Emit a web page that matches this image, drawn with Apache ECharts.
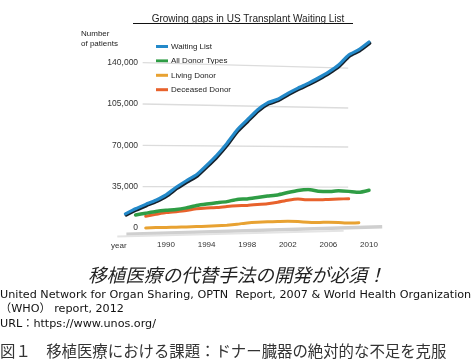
<!DOCTYPE html>
<html>
<head>
<meta charset="utf-8">
<script src="https://cdn.jsdelivr.net/npm/echarts@6/dist/echarts.min.js"></script>
<style>
html,body{margin:0;padding:0;background:#fff;}
#c{width:473px;height:363px;}
</style>
</head>
<body>
<div id="c"></div>
<script>
// ---- data ----
const chartTitle = 'Growing gaps in US Transplant Waiting List';
const yAxisName = 'Number\nof patients';
const xAxisName = 'year';
const seriesNames = ['Waiting List', 'All Donor Types', 'Living Donor', 'Deceased Donor'];
const xTickYears = [1990, 1994, 1998, 2002, 2006, 2010];
const yTickValues = [0, 35000, 70000, 105000, 140000];

const waitingYears = [1986,1987,1988,1989,1990,1991,1992,1993,1994,1995,1996,1997,1998,1999,2000,2001,2002,2003,2004,2005,2006,2007,2008,2009,2010];
const waitingList  = [12000,16300,20000,23500,28000,34500,40000,45000,53000,61600,71600,83000,91500,100000,106000,109000,114000,118500,122500,127000,132000,138000,146500,151000,157500];

const allDonorYears = [1987,1988,1989,1990,1991,1992,1993,1994,1995,1996,1997,1998,1999,2000,2001,2002,2003,2004,2005,2006,2007,2008,2009,2010];
const allDonor      = [11000,12500,14000,15000,15600,17000,19000,20300,21300,22300,24200,24600,25800,27000,28000,30000,31800,32600,31200,30800,31500,31000,30200,32000];

const livingYears = [1988,1989,1990,1991,1992,1993,1994,1995,1996,1997,1998,1999,2000,2001,2002,2003,2004,2005,2006,2007,2008,2009];
const livingDonor = [0,300,500,700,900,1200,1500,1900,2400,3200,4300,4900,5200,5400,5600,5400,4900,4600,4900,4700,4200,4500];

const deceasedYears = [1988,1989,1990,1991,1992,1993,1994,1995,1996,1997,1998,1999,2000,2001,2002,2003,2004,2005,2006,2007,2008];
const deceasedDonor = [10000,11500,13000,13800,14800,16300,17000,17300,18200,18800,19100,19800,20600,21800,23500,24500,23800,23800,24200,24500,24800];

const headline = '移植医療の代替手法の開発が必須！';
const sourceLines = [
  'United Network for Organ Sharing, OPTN  Report, 2007 & World Health Organization',
  '（WHO） report, 2012',
  'URL：https://www.unos.org/'
];
const caption = '図１　移植医療における課題：ドナー臓器の絶対的な不足を克服';

// ---- build ----
const colors = {
  'Waiting List': '#2389c9',
  'All Donor Types': '#2f9d45',
  'Living Donor': '#e8a232',
  'Deceased Donor': '#e8622c'
};
const zip = (xs, ys) => xs.map((x, i) => [x, ys[i]]);
const FONT = '"Liberation Sans", Arial, "Noto Sans CJK JP", sans-serif';
const SFONT = '"DejaVu Sans", "Noto Sans CJK JP", sans-serif';
const JFONT = '"Noto Sans CJK JP", "Liberation Sans", sans-serif';

// gridline segments (slightly perspective-tilted), in data space
const gridStartYear = 1987.7, gridEndYear = 2007.95;
const gridDrops = {35000: 400, 70000: 1400, 105000: 3400, 140000: 4600};
const gridLines = yTickValues.filter(v => v > 0).map(v => [
  {coord: [gridStartYear, v]},
  {coord: [gridEndYear, v - gridDrops[v]]}
]);

const chart = echarts.init(document.getElementById('c'), null, {renderer: 'canvas'});

function lineSeries(name, data, width, z, extra) {
  return Object.assign({
    name: name,
    type: 'line',
    data: data,
    showSymbol: false,
    symbol: 'none',
    smooth: 0.15,
    clip: false,
    z: z,
    lineStyle: {color: colors[name], width: width, cap: 'round', join: 'round'},
    itemStyle: {color: colors[name]}
  }, extra || {});
}

const option = {
  animation: false,
  backgroundColor: '#fff',
  textStyle: {fontFamily: FONT},
  title: {
    text: chartTitle,
    left: 243,
    textAlign: 'center',
    top: 9,
    textStyle: {fontFamily: FONT, fontSize: 10, fontWeight: 'normal', color: '#222'}
  },
  legend: {
    orient: 'vertical',
    left: 151,
    top: 36.5,
    itemWidth: 12,
    itemHeight: 3,
    itemGap: 4.4,
    icon: 'rect',
    data: seriesNames,
    textStyle: {fontFamily: FONT, fontSize: 8, color: '#222', lineHeight: 10, padding: [0, 0, 0, -2]},
    selectedMode: false
  },
  grid: {
    left: 105.1,
    width: 284.2,
    top: 21.35,
    height: 247.95,
    containLabel: false,
    outerBoundsMode: 'none'
  },
  xAxis: {
    type: 'value',
    min: 1984,
    max: 2012,
    offset: -41.3,
    splitLine: {show: false},
    axisLine: {show: false, onZero: false},
    axisTick: {show: false},
    axisLabel: {
      customValues: xTickYears,
      margin: 13,
      fontFamily: FONT,
      fontSize: 8,
      color: '#333',
      formatter: v => String(v)
    }
  },
  yAxis: {
    type: 'value',
    min: -35000,
    max: 175000,
    interval: 35000,
    splitLine: {show: false},
    axisLine: {show: false},
    axisTick: {show: false},
    axisLabel: {
      margin: -33,
      align: 'right',
      fontFamily: FONT,
      fontSize: 8.5,
      color: '#333',
      formatter: v => (yTickValues.indexOf(v) >= 0 ? v.toLocaleString('en-US') : '')
    }
  },
  graphic: [
    {type: 'line', shape: {x1: 133, y1: 23.5, x2: 353, y2: 23.5}, style: {stroke: '#111', lineWidth: 1}},
    {type: 'text', left: 81, top: 29, style: {text: yAxisName, font: '8px ' + FONT, fill: '#222', lineHeight: 10}},
    {type: 'text', left: 111, top: 242, style: {text: xAxisName, font: '8px ' + FONT, fill: '#333'}},
    {type: 'text', left: 88, top: 266, style: {text: headline, font: 'italic 18.6px ' + JFONT, fill: '#222'}},
    {type: 'text', left: 0, top: 289, style: {text: sourceLines[0], font: '11.2px ' + SFONT, fill: '#111'}},
    {type: 'text', left: 0, top: 303.5, style: {text: sourceLines[1], font: '11.2px ' + SFONT, fill: '#111'}},
    {type: 'text', left: 0, top: 318.5, style: {text: sourceLines[2], font: '11.2px ' + SFONT, fill: '#111'}},
    {type: 'text', left: 0, top: 343, style: {text: caption, font: '15.4px ' + JFONT, fill: '#333'}}
  ],
  series: [
    {
      name: '_grid',
      type: 'line',
      data: [],
      z: 1,
      silent: true,
      markLine: {
        silent: true,
        symbol: ['none', 'none'],
        label: {show: false},
        lineStyle: {color: '#dcdcdc', width: 1.3, type: 'solid'},
        emphasis: {disabled: true},
        data: gridLines.concat([
          [{coord: [1986.1, -5300], lineStyle: {color: '#cfcfcf', width: 3.5}}, {coord: [2011.3, 1100]}],
          [{coord: [1985.2, -7300], lineStyle: {color: '#e4e4e4', width: 2}}, {coord: [2007.5, -2400]}]
        ])
      }
    },
    lineSeries('Living Donor', zip(livingYears, livingDonor), 3, 2),
    lineSeries('Deceased Donor', zip(deceasedYears, deceasedDonor), 3, 3),
    lineSeries('All Donor Types', zip(allDonorYears, allDonor), 3.5, 4),
    lineSeries('Waiting List', zip(waitingYears, waitingList), 3.2, 5, {
      lineStyle: {
        color: colors['Waiting List'], width: 3.2, cap: 'round', join: 'round',
        shadowColor: 'rgba(10,20,30,0.95)', shadowBlur: 0, shadowOffsetX: 0.8, shadowOffsetY: 1.3
      }
    })
  ]
};
chart.setOption(option);
</script>
</body>
</html>
